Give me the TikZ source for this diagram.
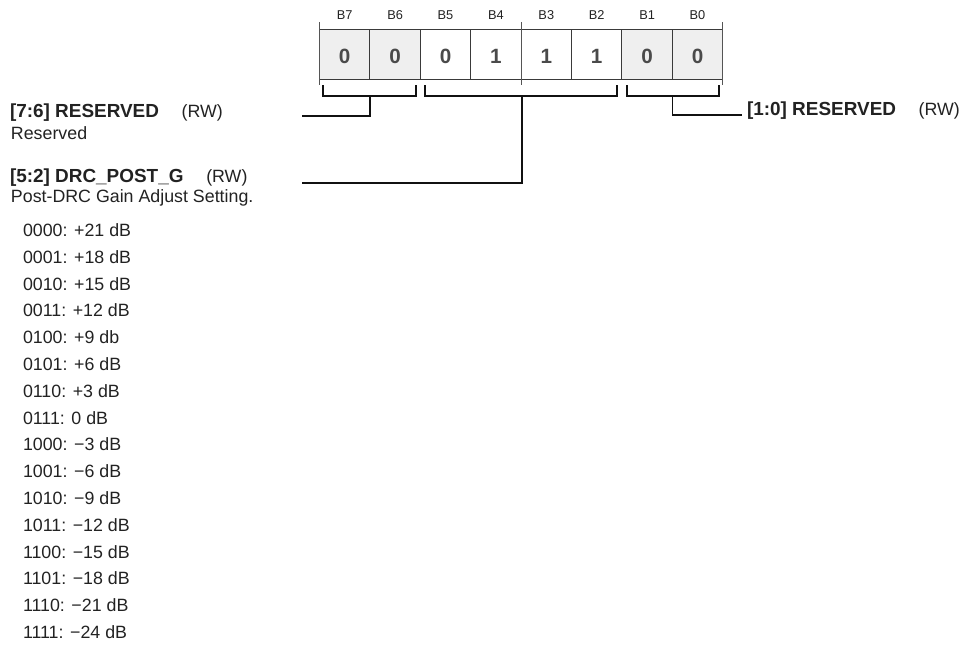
\documentclass[tikz,border=0pt]{standalone}
\usepackage{fontspec}
\setmainfont{Liberation Sans}
\definecolor{txtc}{HTML}{222222}
\definecolor{valc}{HTML}{4A4A4A}
\definecolor{cellc}{HTML}{3A3A3A}
\definecolor{shadec}{HTML}{EFEFEF}
\definecolor{linec}{HTML}{111111}
\definecolor{tickc}{HTML}{555555}
\newcommand{\hdbold}[1]{{\fontsize{14.2}{16}\selectfont\bfseries #1}}
\begin{document}
\begin{tikzpicture}[x=0.75pt,y=-0.75pt,
  every node/.style={inner sep=0pt,outer sep=0pt},
  txt/.style={font=\fontsize{13.35}{16}\selectfont, text=txtc, anchor=base west},
  bitlbl/.style={font=\fontsize{9.6}{11}\selectfont, text=txtc},
  cellbox/.style={draw=cellc, line width=0.8pt, minimum width=37.8pt, minimum height=37.3pt},
  plaincell/.style={cellbox, fill=white},
  shadedcell/.style={cellbox, fill=shadec},
  val/.style={font=\fontsize{15.5}{18}\selectfont\bfseries, text=valc},
  tickln/.style={draw=tickc, line width=0.7pt},
  brk/.style={draw=linec, line width=1pt},
  conn/.style={draw=linec, line width=1pt}]
\useasboundingbox (0,0) rectangle (964,644);

% register cells
\foreach \i/\v/\s in {7/0/shadedcell,6/0/shadedcell,5/0/plaincell,4/1/plaincell,3/1/plaincell,2/1/plaincell,1/0/shadedcell,0/0/shadedcell}{
  \node[\s] (c\i) at ({319.5+50.4*(7-\i+0.5)},54.2) {};
  \node[val] (v\i) at ([yshift=-1.9pt]c\i.center) {\v};
  \node[bitlbl] (l\i) at ({319.5+50.4*(7-\i+0.5)},14.7) {B\i};
}

% ticks
\draw[tickln] (319.5,22) -- (319.5,85);
\draw[tickln] (521.7,22) -- (521.7,85);
\draw[tickln] (722.7,22) -- (722.7,85);

% brackets
\draw[brk] (323,85) -- (323,96) -- (416,96) -- (416,85);
\draw[brk] (425,85) -- (425,96) -- (617,96) -- (617,85);
\draw[brk] (627,85) -- (627,96) -- (719,96) -- (719,85);
\coordinate (b76) at (370,96);
\coordinate (b52) at (522,96);
\coordinate (b10) at (672.7,96);
\coordinate (e76) at (302,116);
\coordinate (e52) at (302,183);
\coordinate (e10) at (742,115);

% headings
\node[txt] (h76) at (10,117.5) {\hdbold{[7:6] RESERVED}\hspace{17pt}(RW)};
\node[txt] (d76) at (11,139) {Reserved};
\node[txt] (h52) at (10,182.3) {\hdbold{[5:2] DRC\_POST\_G}\hspace{17pt}(RW)};
\node[txt] (d52) at (11,202.3) {Post-DRC Gain Adjust Setting.};
\node[txt] (h10) at (747,115) {\hdbold{[1:0] RESERVED}\hspace{17pt}(RW)};

% connectors
\draw[conn] (b76) |- (e76);
\draw[conn] (b52) |- (e52);
\draw[conn] (b10) |- (e10);

% value list
\foreach \t [count=\n from 0] in {0000: +21 dB,0001: +18 dB,0010: +15 dB,0011: +12 dB,0100: +9 db,0101: +6 dB,0110: +3 dB,0111: 0 dB,1000: −3 dB,1001: −6 dB,1010: −9 dB,1011: −12 dB,1100: −15 dB,1101: −18 dB,1110: −21 dB,1111: −24 dB}{
  \node[txt] (r\n) at (23,{236.5+26.8*\n}) {\t};
}
\end{tikzpicture}
\end{document}
